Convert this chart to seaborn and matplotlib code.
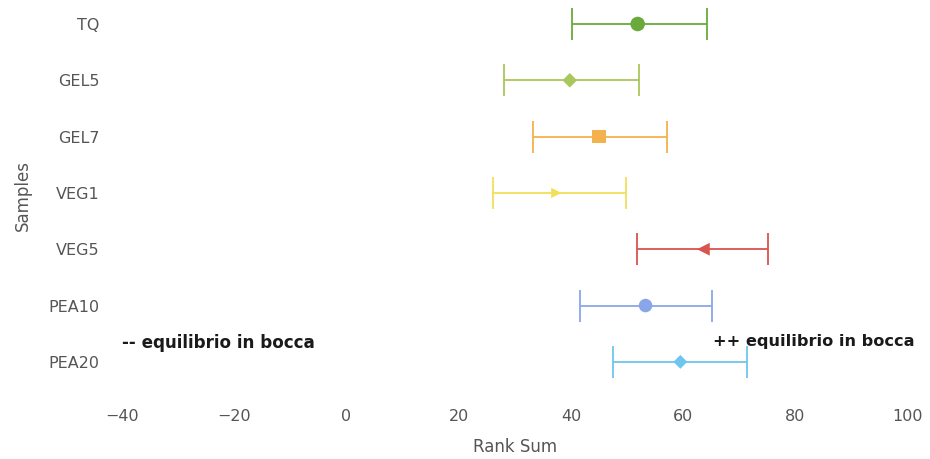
import matplotlib
matplotlib.use('Agg')
import matplotlib.pyplot as plt
import matplotlib.colors as mcolors
import pandas as pd
import seaborn as sns

# Data
samples = ['TQ', 'GEL5', 'GEL7', 'VEG1', 'VEG5', 'PEA10', 'PEA20']
rank_sum = [51.9, 39.8, 45.0, 37.4, 63.6, 53.3, 59.5]
lower = [40.2, 28.1, 33.2, 26.1, 51.7, 41.6, 47.5]
upper = [64.2, 52.1, 57.1, 49.8, 75.2, 65.1, 71.3]
colors = ['#6aaa3c', '#a9c75c', '#f3b24d', '#f2df5a', '#d9534f', '#8aa6ea', '#6ec6ee']
markers = ['o', 'D', 's', '>', '<', 'o', 'D']
marker_sizes = [110, 55, 95, 55, 85, 95, 50]

df = pd.DataFrame({'sample': samples, 'value': rank_sum, 'lo': lower, 'hi': upper})
df['pos'] = range(len(df))

sns.set_style('white')
plt.rcParams['font.family'] = ['DejaVu Sans']

fig = plt.figure(figsize=(9.3, 4.59), dpi=100)
ax = fig.add_axes([0.131, 0.1503, 0.845, 0.8497])

for i, row in df.iterrows():
    c = colors[i]
    cap = tuple(v * 0.7 for v in mcolors.to_rgb(c))
    line, caps, bars = ax.errorbar(
        row['value'], row['pos'],
        xerr=[[row['value'] - row['lo']], [row['hi'] - row['value']]],
        fmt='none', ecolor=c, elinewidth=1.3, capsize=11.5, capthick=1.3, zorder=2)
    for cl in caps:
        cl.set_color(cap)

sns.scatterplot(data=df, x='value', y='pos', hue='sample', style='sample',
                palette=dict(zip(samples, colors)),
                markers=dict(zip(samples, markers)),
                size='sample', sizes=dict(zip(samples, marker_sizes)),
                edgecolor='none', legend=False, ax=ax, zorder=3)

ax.set_xlim(-40, 100)
ax.set_ylim(6.5, -0.426)
ax.set_xticks([-40, -20, 0, 20, 40, 60, 80, 100])
ax.set_yticks(df['pos'])
ax.set_yticklabels(samples)
ax.tick_params(axis='x', length=0, pad=14, labelsize=11.5, labelcolor='#555555')
ax.tick_params(axis='y', length=0, pad=16, labelsize=11.5, labelcolor='#555555')
ax.set_xlabel('Rank Sum', fontsize=12, color='#555555', labelpad=10)
ax.set_ylabel('Samples', fontsize=12, color='#555555', labelpad=12)
for s in ax.spines.values():
    s.set_visible(False)

ax.text(-40, 5.66, '-- equilibrio in bocca', fontsize=12.1, fontweight='bold',
        color='#1a1a1a', ha='left', va='center')
ax.text(65.3, 5.63, '++ equilibrio in bocca', fontsize=11.6, fontweight='bold',
        color='#1a1a1a', ha='left', va='center')

fig.savefig('out.png', dpi=100)
